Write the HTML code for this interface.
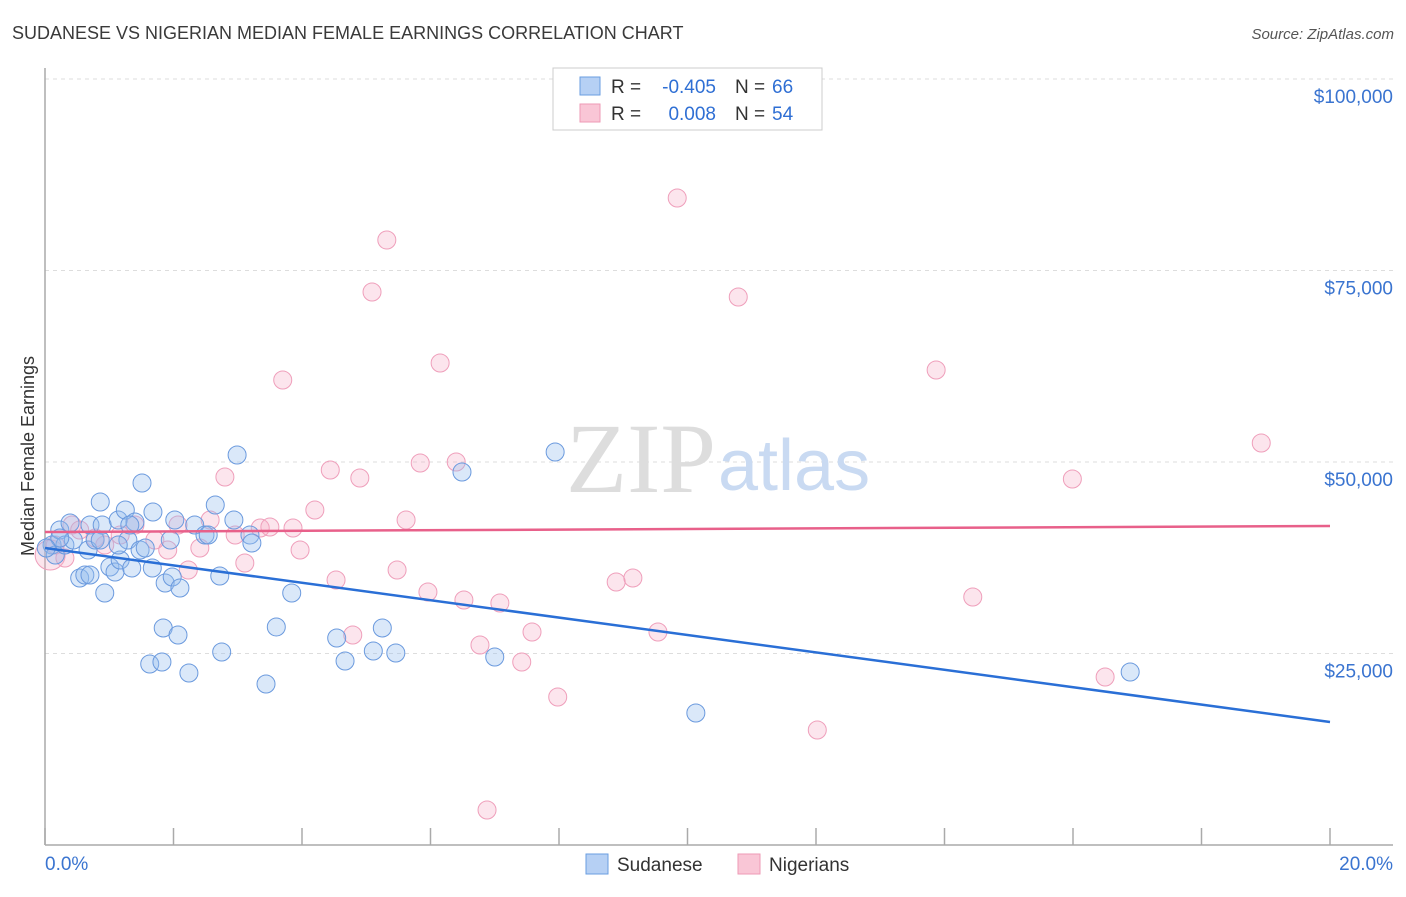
<!DOCTYPE html>
<html><head><meta charset="utf-8"><style>
body{margin:0;background:#fff;font-family:"Liberation Sans",sans-serif}
</style></head><body>
<svg id="chart" width="1406" height="892" viewBox="0 0 1406 892" xmlns="http://www.w3.org/2000/svg" font-family="Liberation Sans, sans-serif">
<text x="12" y="39" font-size="18" fill="#3a3a3a">SUDANESE VS NIGERIAN MEDIAN FEMALE EARNINGS CORRELATION CHART</text>
<text x="1394" y="39" font-size="15" fill="#555" text-anchor="end" font-style="italic">Source: ZipAtlas.com</text>
<g id="grid"></g>
<text x="716" y="492" font-size="100" text-anchor="end" fill="#ddd" font-family="Liberation Serif, serif">ZIP</text>
<text x="718" y="490" font-size="72" fill="#c9daf2">atlas</text>
<line x1="45" y1="68" x2="45" y2="845" stroke="#aaa" stroke-width="1.5"/>
<line x1="45" y1="845" x2="1393" y2="845" stroke="#aaa" stroke-width="1.5"/>
<g id="ticks"></g>
<g id="ylabels"></g>
<g id="pts"></g>
<g id="trend"></g>
<text transform="translate(34,456) rotate(-90)" font-size="18" fill="#333" text-anchor="middle">Median Female Earnings</text>
<text x="45" y="870" font-size="19" fill="#3a74d0">0.0%</text>
<text x="1393" y="870" font-size="19" fill="#3a74d0" text-anchor="end">20.0%</text>
<g>
<rect x="553" y="68" width="269" height="62" fill="#fff" stroke="#ccc"/>
<rect x="580" y="77" width="20" height="18" fill="#b6d0f4" stroke="#6a9ee0"/>
<rect x="580" y="104" width="20" height="18" fill="#f9c6d6" stroke="#ee9ab5"/>
<text x="611" y="93" font-size="19" fill="#333">R =</text>
<text x="716" y="93" font-size="19" fill="#2f6fd4" text-anchor="end">-0.405</text>
<text x="735" y="93" font-size="19" fill="#333">N =</text>
<text x="772" y="93" font-size="19" fill="#2f6fd4">66</text>
<text x="611" y="120" font-size="19" fill="#333">R =</text>
<text x="716" y="120" font-size="19" fill="#2f6fd4" text-anchor="end">0.008</text>
<text x="735" y="120" font-size="19" fill="#333">N =</text>
<text x="772" y="120" font-size="19" fill="#2f6fd4">54</text>
</g>
<g>
<rect x="586" y="854" width="22" height="20" fill="#b6d0f4" stroke="#6a9ee0"/>
<text x="617" y="871" font-size="19" fill="#333">Sudanese</text>
<rect x="738" y="854" width="22" height="20" fill="#f9c6d6" stroke="#ee9ab5"/>
<text x="769" y="871" font-size="19" fill="#333">Nigerians</text>
</g>
</svg>
<script>
const yTicks=[25000,50000,75000,100000];
const yTickLabels=["$25,000","$50,000","$75,000","$100,000"];
const xTicks=[0,2,4,6,8,10,12,14,16,18,20];
const sudX=[0.11,0.16,0.23,0.31,0.39,0.44,0.54,0.62,0.70,0.67,0.78,0.86,0.89,0.93,1.01,1.09,1.14,1.17,1.25,1.29,1.35,1.40,1.48,1.51,1.56,1.67,1.68,1.84,1.87,1.95,1.98,2.02,2.07,2.10,1.63,1.82,2.24,2.33,2.49,2.54,2.65,2.72,2.75,2.94,2.99,3.19,3.22,3.44,3.60,3.84,4.54,4.67,5.11,5.25,5.46,6.49,7.00,7.94,10.13,16.89,0.23,0.02,1.14,0.70,0.86,1.32];
const sudY=[39165,37860,41123,39165,42037,39818,34857,35249,41776,38512,39818,44779,41776,32898,36293,35640,42429,37207,43734,39818,36162,42168,38512,47259,38773,36162,43473,28329,34204,39818,34987,42429,27415,33551,23630,23891,22455,41776,40471,40471,44387,35118,25196,42429,50914,40471,39426,21019,28460,32898,27024,24021,25327,28329,25066,48695,24543,51306,17233,22585,40079,38773,39165,35249,39818,41776];
const nigX=[0.08,0.16,0.31,0.42,0.54,0.78,0.93,1.17,1.40,1.71,1.91,2.07,2.23,2.41,2.57,2.80,2.96,3.11,3.35,3.50,3.70,3.86,3.97,4.20,4.44,4.53,4.79,4.90,5.09,5.32,5.48,5.62,5.84,5.96,6.15,6.40,6.52,6.77,6.88,7.08,7.42,7.58,7.98,8.89,9.15,9.54,9.84,10.79,12.02,13.87,14.44,15.99,16.50,18.93];
const nigY=[37860,39165,37468,41776,41123,40079,39165,40471,41776,39818,38512,41776,35901,38773,42429,48042,40471,36815,41384,41515,60706,41384,38512,43734,48956,34596,27415,47911,72194,78982,35901,42429,49870,33029,62925,50000,31985,26110,4569,31593,23891,27807,19321,34335,34857,27807,84466,71541,15013,62011,32376,47781,21932,52480];
const sudTrend=[38773,16057];
const nigTrend=[40862,41645];
const NS='http://www.w3.org/2000/svg';
const xs=v=>45+v/20*1285;
const ys=v=>845-v/100000*766;
function mk(t,a,p){const e=document.createElementNS(NS,t);for(const k in a)e.setAttribute(k,a[k]);p.appendChild(e);return e;}
const grid=document.getElementById('grid'),yl=document.getElementById('ylabels'),tk=document.getElementById('ticks');
mk('line',{x1:45,y1:79,x2:1393,y2:79,stroke:'#ddd','stroke-dasharray':'4,4'},grid);
yTicks.forEach((v,i)=>{
 const g=mk('line',{x1:45,y1:ys(v),x2:1393,y2:ys(v),stroke:'#ddd','stroke-dasharray':'4,4'},grid);
 
 
 const t=mk('text',{x:1393,y:ys(v)+24,'font-size':19,fill:'#3a74d0','text-anchor':'end'},yl);
 t.textContent=yTickLabels[i];
 
 
});
xTicks.forEach(v=>{
 const l=mk('line',{x1:xs(v),y1:828,x2:xs(v),y2:845,stroke:'#aaa','stroke-width':1.5},tk);
 
 
});
const pts=document.getElementById('pts');
nigX.forEach((x,i)=>{
 const c=mk('circle',{cx:xs(x),cy:ys(nigY[i]),r:i===0?15:9,fill:'rgba(246,170,196,0.3)',stroke:'#ef9fbb','stroke-width':1},pts);
 
 
});
sudX.forEach((x,i)=>{
 const c=mk('circle',{cx:xs(x),cy:ys(sudY[i]),r:9,fill:'rgba(150,188,238,0.35)',stroke:'#6b9ade','stroke-width':1},pts);
 
 
});
const tr=document.getElementById('trend');
const l1=mk('line',{x1:xs(0),y1:ys(nigTrend[0]),x2:xs(20),y2:ys(nigTrend[1]),stroke:'#e8608a','stroke-width':2.5},tr);


const l2=mk('line',{x1:xs(0),y1:ys(sudTrend[0]),x2:xs(20),y2:ys(sudTrend[1]),stroke:'#2a6fd6','stroke-width':2.5},tr);


</script>
</body></html>
